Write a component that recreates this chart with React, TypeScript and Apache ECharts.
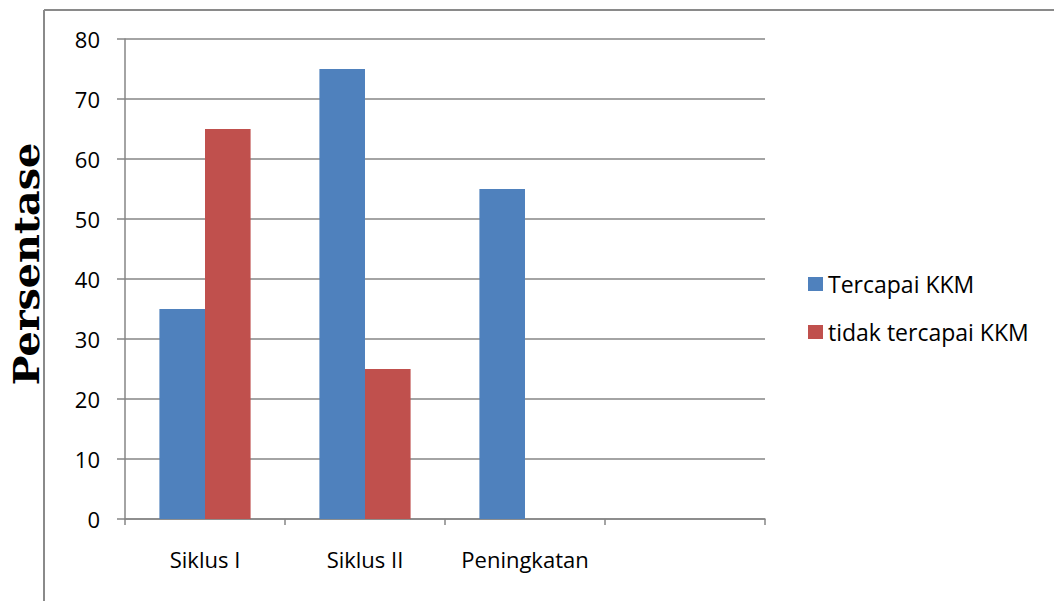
import React, { useEffect, useRef } from "react";
import * as echarts from "echarts";

const categories = ["Siklus I", "Siklus II", "Peningkatan", ""];
const tercapai = [35, 75, 55, null];
const tidakTercapai = [65, 25, null, null];
const seriesNames = ["Tercapai KKM", "tidak tercapai KKM"];
const yTitle = "Persentase";
const yTicks = { min: 0, max: 80, interval: 10 };

export default function App() {
  const ref = useRef<HTMLDivElement>(null);
  useEffect(() => {
    const chart = echarts.init(ref.current!, null, { renderer: "svg" });
    const font = "'Open Sans', 'Liberation Sans', sans-serif";
    chart.setOption({
      animation: false,
      backgroundColor: "#ffffff",
      graphic: [
        { type: "line", shape: { x1: 44, y1: 10, x2: 1054, y2: 10 }, style: { stroke: "#8a8a8a", lineWidth: 2 } },
        { type: "line", shape: { x1: 44, y1: 10, x2: 44, y2: 601 }, style: { stroke: "#8a8a8a", lineWidth: 2 } },
        {
          type: "text",
          x: 26,
          y: 264,
          rotation: Math.PI / 2,
          scaleX: 1.1,
          style: {
            text: yTitle,
            fontFamily: "'DejaVu Serif', serif",
            fontWeight: "bold",
            fontSize: 36,
            fill: "#000",
            align: "center",
            verticalAlign: "middle",
          },
        },
      ],
      grid: { left: 125, top: 39, width: 640, height: 480, containLabel: false, outerBoundsMode: "none" },
      legend: {
        orient: "vertical",
        left: 803,
        top: 267,
        padding: 5,
        itemWidth: 15,
        itemHeight: 14,
        itemGap: 24,
        icon: "rect",
        textStyle: { fontFamily: font, fontSize: 23, color: "#000", lineHeight: 24 },
        data: seriesNames,
      },
      xAxis: {
        type: "category",
        data: categories,
        axisLine: { lineStyle: { color: "#868686", width: 1.5 } },
        axisTick: { show: true, length: 6, interval: 0, lineStyle: { color: "#868686", width: 1.5 } },
        axisLabel: { fontFamily: font, fontSize: 22, color: "#000", margin: 29, interval: 0 },
        splitLine: { show: false },
      },
      yAxis: {
        type: "value",
        min: yTicks.min,
        max: yTicks.max,
        interval: yTicks.interval,
        axisLine: { show: true, lineStyle: { color: "#868686", width: 1.5 } },
        axisTick: { show: true, length: 8, lineStyle: { color: "#868686", width: 1.5 } },
        axisLabel: { fontFamily: font, fontSize: 22, color: "#000", margin: 25 },
        splitLine: { show: true, lineStyle: { color: "#868686", width: 1.5 } },
      },
      series: [
        {
          name: seriesNames[0],
          type: "bar",
          data: tercapai,
          itemStyle: { color: "#4F81BD" },
          barGap: "0%",
          barCategoryGap: "43%",
        },
        {
          name: seriesNames[1],
          type: "bar",
          data: tidakTercapai,
          itemStyle: { color: "#C0504D" },
          barGap: "0%",
          barCategoryGap: "43%",
        },
      ],
    });
    return () => chart.dispose();
  }, []);
  return <div ref={ref} style={{ position: "fixed", left: 0, top: 0, width: 1054, height: 601 }} />;
}
